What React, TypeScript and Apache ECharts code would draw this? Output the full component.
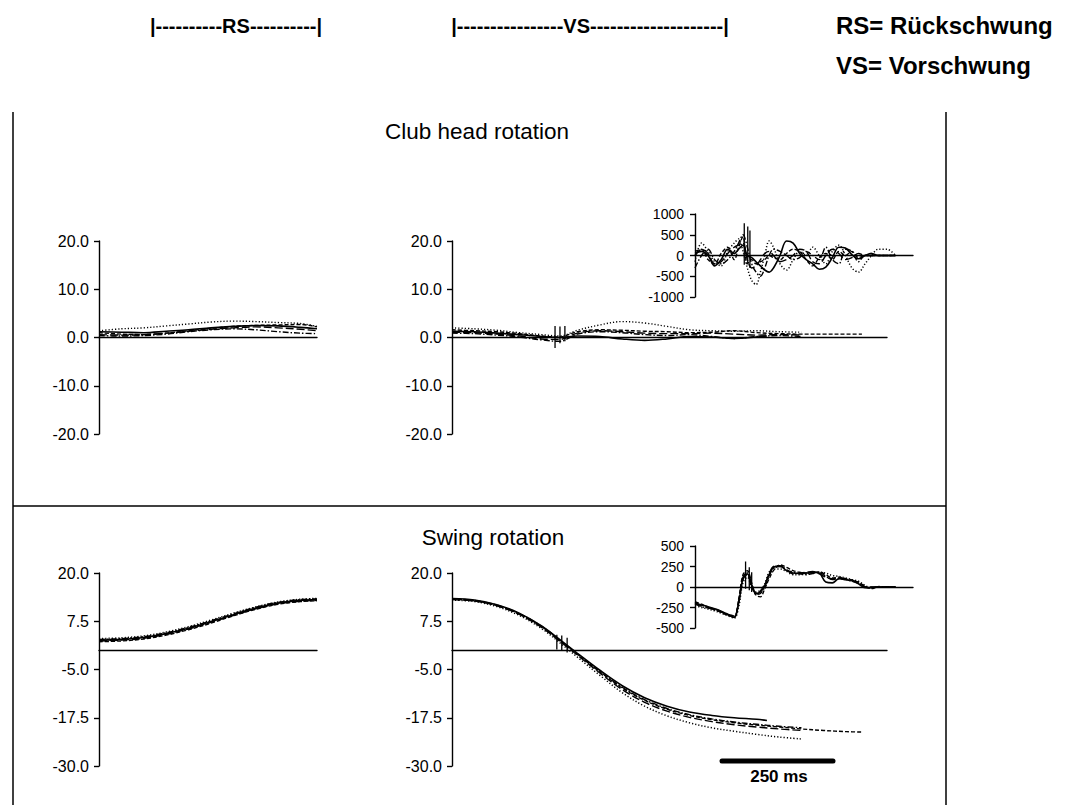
import React, { useEffect, useRef } from "react";
import * as echarts from "echarts";

// ---------- tick / axis settings ----------
const clubTicks = { min: -20, max: 20, interval: 10 };
const swingTicks = { min: -30, max: 20, interval: 12.5 };
const clubInsetTicks = { min: -1000, max: 1000, interval: 500 };
const swingInsetTicks = { min: -500, max: 500, interval: 250 };

// ---------- time bases ----------
const rsTime = [0, 50, 100, 150, 200, 250, 300, 350, 400, 450, 487];
const vsTime = [0, 50, 100, 150, 200, 240, 280, 330, 380, 430, 480, 530, 580, 630, 680, 730, 780, 830, 880, 915];
const vsSolidTime = [0, 50, 100, 150, 200, 240, 280, 330, 380, 430, 480, 530, 580, 630, 680, 703];
const insetUnits = [0, 3, 6, 9, 12, 15, 18, 20, 22, 24, 26, 28, 30, 32, 34, 36, 39, 42, 45, 48, 51, 54, 57, 60, 63, 66, 69, 72, 75, 78, 81, 84, 88, 92];

// ---------- Club head rotation: Rückschwung ----------
const clubRsSolid = [1.2, 1.1, 1.0, 1.3, 1.6, 2.0, 2.3, 2.5, 2.4, 2.1, 1.8];
const clubRsDotted = [1.4, 1.8, 2.0, 2.4, 2.8, 3.2, 3.4, 3.3, 3.1, 2.9, 2.3];
const clubRsDashed = [1.0, 0.7, 0.6, 0.9, 1.4, 1.9, 2.3, 2.5, 2.6, 2.7, 2.2];
const clubRsDashDot = [0.4, 0.3, 0.4, 0.7, 1.2, 1.6, 1.8, 1.6, 1.2, 0.9, 0.8];
const clubRsLongDash = [0.6, 0.5, 0.6, 0.9, 1.3, 1.7, 2.0, 2.2, 2.0, 1.7, 1.4];

// ---------- Club head rotation: Vorschwung ----------
const clubVsSolid = [1.3, 1.2, 0.9, 0.6, 0.2, 0.0, 0.3, 0.2, -0.3, -0.6, -0.3, 0.2, 0.1, -0.2, 0.1, 0.3];
const clubVsDotted = [2.0, 1.8, 1.5, 1.0, 0.6, 0.3, 1.5, 2.6, 3.3, 3.0, 2.3, 1.6, 1.4, 1.3, 1.4, 1.2, 1.1];
const clubVsDashed = [1.6, 1.4, 1.2, 0.8, 0.3, 0.1, 1.2, 1.6, 1.5, 1.3, 1.2, 1.0, 1.1, 1.4, 1.0, 0.8, 0.7, 0.7, 0.7, 0.7];
const clubVsDashDot = [0.9, 0.8, 0.5, 0.1, -0.5, -0.8, 0.7, 1.2, 1.0, 0.6, 0.4, 0.6, 0.2, -0.2, 0.2, 0.4, 0.2];
const clubVsLongDash = [1.1, 1.0, 0.7, 0.3, -0.3, -0.4, 0.9, 1.4, 1.2, 0.9, 0.8, 0.8, 0.9, 0.7, 0.5, 0.6, 0.5];
const clubVsSpikeTime = [230, 241, 252];
const clubVsSpikeHigh = [2.4, 2.3, 2.4];
const clubVsSpikeLow = [-2.2, -1.2, -0.8];

// ---------- Club head rotation: inset ----------
const clubInsetSolid = [50, 100, 0, -250, -100, 150, 50, 150, 250, 0, -50, -150, -250, -350, -400, -300, 0, 350, 300, 50, -100, -200, -330, -280, -50, 200, 180, 20, -80, 0, 50, 0, 0, 0];
const clubInsetDotted = [-150, 300, 100, -150, -250, 100, 300, 400, 100, -300, -600, -700, -400, 0, 350, 200, -200, -350, -100, 100, 0, 200, 0, -200, 100, 250, 0, -300, -400, -200, 0, 150, 150, 0];
const clubInsetDashDot = [-300, 0, 150, -100, -200, -100, 100, 300, 500, 200, -200, -400, -500, -300, 0, 150, 100, 0, -100, -50, 100, 0, -100, 200, -100, -200, 150, 100, -150, 0, 0, 0, 0, 0];
const clubInsetDashed = [100, 150, -100, -200, 50, 200, -100, 200, 450, -200, -100, -200, -150, -100, 0, -50, -100, 50, 150, 100, -100, -250, -50, 50, -100, 100, 0, 100, -50, 0, 0, 0, 0, 0];
const clubInsetLongDash = [0, 150, 50, -200, -150, 50, 200, 250, 300, -100, -300, -250, -100, 50, 100, 0, -150, -100, 0, 150, 100, -150, -200, 0, 150, 50, -100, -50, 50, 0, 0, 0, 0, 0];
const clubInsetSpikeUnit = [22.6, 24.2, 25.2];
const clubInsetSpikeHigh = [780, 700, 600];
const clubInsetSpikeLow = [-220, -200, -300];

// ---------- Swing rotation: Rückschwung ----------
const swingRsA = [2.6, 2.8, 3.3, 4.3, 5.7, 7.4, 9.2, 10.9, 12.2, 12.9, 13.1];
const swingRsB = [3.0, 3.2, 3.7, 4.7, 6.1, 7.8, 9.6, 11.2, 12.5, 13.2, 13.4];
const swingRsC = [2.2, 2.4, 2.9, 3.9, 5.3, 7.0, 8.9, 10.6, 11.9, 12.6, 12.8];
const swingRsD = [2.8, 3.0, 3.5, 4.5, 5.9, 7.6, 9.4, 11.1, 12.4, 13.1, 13.3];
const swingRsE = [2.4, 2.6, 3.1, 4.1, 5.5, 7.2, 9.0, 10.7, 12.0, 12.7, 12.9];

// ---------- Swing rotation: Vorschwung ----------
const swingVsSolid = [13.4, 13.0, 11.8, 9.6, 6.3, 2.8, -0.8, -5.2, -9.2, -12.3, -14.5, -16.0, -16.9, -17.5, -17.9, -18.2];
const swingVsDashed = [13.2, 12.8, 11.6, 9.4, 6.1, 2.6, -1.1, -5.6, -9.8, -13.0, -15.3, -16.9, -18.0, -18.8, -19.4, -19.9, -20.4, -20.8, -21.1, -21.2];
const swingVsDotted = [13.0, 12.6, 11.3, 9.0, 5.6, 2.0, -1.8, -6.5, -11.0, -14.5, -17.0, -18.8, -20.1, -21.0, -21.8, -22.5, -23.0];
const swingVsDashDot = [13.3, 12.9, 11.7, 9.5, 6.2, 2.7, -1.0, -5.5, -9.6, -12.8, -15.1, -16.7, -17.8, -18.6, -19.2, -19.7, -20.1];
const swingVsLongDash = [13.1, 12.7, 11.5, 9.3, 5.9, 2.4, -1.3, -5.9, -10.2, -13.5, -15.8, -17.4, -18.5, -19.3, -19.9, -20.4, -20.8];
const swingVsSpikeTime = [234, 245, 257];
const swingVsSpikeHigh = [4.0, 3.8, 3.2];
const swingVsSpikeLow = [0.2, -0.2, -0.6];

// ---------- Swing rotation: inset ----------
const swingInsetSolid = [-200, -220, -240, -265, -295, -335, -370, -200, 100, 160, 20, -80, -60, 20, 150, 240, 255, 200, 170, 165, 170, 180, 170, 60, 50, 100, 90, 75, 40, -10, -5, 0, 0, 0];
const swingInsetDashed = [-180, -210, -250, -280, -310, -345, -360, -150, 150, 200, 50, -100, -120, -20, 100, 200, 270, 240, 200, 180, 170, 175, 185, 150, 110, 120, 100, 80, 60, 10, -20, 0, 0, 0];
const swingInsetDotted = [-230, -250, -270, -290, -320, -350, -380, -250, 50, 120, 0, -60, -40, 40, 180, 220, 220, 190, 150, 150, 160, 170, 180, 170, 140, 130, 110, 90, 70, 20, -15, 5, 0, 0];
const swingInsetDashDot = [-210, -240, -255, -275, -305, -340, -365, -180, 120, 180, 30, -90, -80, 0, 130, 230, 250, 210, 180, 160, 150, 165, 175, 130, 90, 100, 95, 70, 45, 0, -10, 0, 0, 0];
const swingInsetLongDash = [-190, -230, -250, -270, -300, -330, -350, -190, 90, 150, 10, -70, -50, 30, 160, 250, 260, 210, 160, 170, 180, 190, 160, 120, 100, 110, 100, 85, 50, 5, 0, 0, 0, 0];
const swingInsetSpikeUnit = [23.2, 24.9, 26.0];
const swingInsetSpikeHigh = [310, 240, 180];
const swingInsetSpikeLow = [-20, -40, -60];

// ---------- texts ----------
const headerRs = "|----------RS----------|";
const headerVs = "|----------------VS--------------------|";
const legendLines = ["RS= Rückschwung", "VS= Vorschwung"];
const panelTitles = ["Club head rotation", "Swing rotation"];
const scaleBarLabel = "250 ms";

const FONT = "'Liberation Sans', Arial, Helvetica, sans-serif";
const BLACK = "#000";

const DASH: Record<string, any> = {
  solid: "solid",
  dotted: [1.2, 2],
  dashed: [4, 2],
  dashDot: [6, 2, 1.5, 2],
  longDash: [8, 3],
};

function lineSeries(idx: number, xs: number[], ys: number[], dash: string, width = 1.4) {
  return {
    type: "line",
    xAxisIndex: idx,
    yAxisIndex: idx,
    data: ys.map((y, i) => [xs[i], y]),
    showSymbol: false,
    symbol: "none",
    smooth: 0.35,
    silent: true,
    lineStyle: { color: BLACK, width, type: DASH[dash] },
  };
}

function spikeSeries(idx: number, xs: number[], hi: number[], lo: number[]) {
  return xs.map((x, i) => ({
    type: "line",
    xAxisIndex: idx,
    yAxisIndex: idx,
    data: [
      [x, lo[i]],
      [x, hi[i]],
    ],
    showSymbol: false,
    symbol: "none",
    silent: true,
    lineStyle: { color: BLACK, width: 1.3 },
  }));
}

export default function App() {
  const ref = useRef<HTMLDivElement>(null);

  useEffect(() => {
    if (!ref.current) return;
    const chart = echarts.init(ref.current, undefined, { renderer: "svg" });

    const grids = [
      { left: 99, top: 241, width: 218, height: 193 }, // 0 club RS
      { left: 452, top: 241, width: 435, height: 193 }, // 1 club VS
      { left: 695, top: 214, width: 218, height: 83 }, // 2 club inset
      { left: 99, top: 573, width: 218, height: 193 }, // 3 swing RS
      { left: 452, top: 573, width: 435, height: 193 }, // 4 swing VS
      { left: 695, top: 546, width: 218, height: 82 }, // 5 swing inset
    ];
    const xRanges = [
      [0, 487],
      [0, 971],
      [0, 100],
      [0, 487],
      [0, 971],
      [0, 100],
    ];
    const yTicks = [clubTicks, clubTicks, clubInsetTicks, swingTicks, swingTicks, swingInsetTicks];
    const isInset = [false, false, true, false, false, true];

    const xAxis = grids.map((_, i) => ({
      type: "value",
      gridIndex: i,
      min: xRanges[i][0],
      max: xRanges[i][1],
      axisLine: { show: true, onZero: true, lineStyle: { color: BLACK, width: 1.4 } },
      axisTick: { show: false },
      axisLabel: { show: false },
      splitLine: { show: false },
    }));

    const yAxis = grids.map((_, i) => ({
      type: "value",
      gridIndex: i,
      min: yTicks[i].min,
      max: yTicks[i].max,
      interval: yTicks[i].interval,
      axisLine: { show: true, onZero: false, lineStyle: { color: BLACK, width: 1.4 } },
      axisTick: { show: true, inside: false, length: 5, lineStyle: { color: BLACK, width: 1.4 } },
      axisLabel: {
        show: true,
        color: BLACK,
        fontFamily: FONT,
        fontSize: isInset[i] ? 14 : 16,
        margin: isInset[i] ? 11 : 10,
        formatter: (v: number) => (isInset[i] ? String(Math.round(v)) : v.toFixed(1)),
      },
      splitLine: { show: false },
    }));

    const series: any[] = [
      // club RS
      lineSeries(0, rsTime, clubRsSolid, "solid", 1.6),
      lineSeries(0, rsTime, clubRsDotted, "dotted"),
      lineSeries(0, rsTime, clubRsDashed, "dashed"),
      lineSeries(0, rsTime, clubRsDashDot, "dashDot"),
      lineSeries(0, rsTime, clubRsLongDash, "longDash"),
      // club VS
      lineSeries(1, vsSolidTime, clubVsSolid, "solid", 1.6),
      lineSeries(1, vsTime, clubVsDotted, "dotted"),
      lineSeries(1, vsTime, clubVsDashed, "dashed"),
      lineSeries(1, vsTime, clubVsDashDot, "dashDot"),
      lineSeries(1, vsTime, clubVsLongDash, "longDash"),
      ...spikeSeries(1, clubVsSpikeTime, clubVsSpikeHigh, clubVsSpikeLow),
      // club inset
      lineSeries(2, insetUnits, clubInsetSolid, "solid", 1.6),
      lineSeries(2, insetUnits, clubInsetDotted, "dotted", 1.5),
      lineSeries(2, insetUnits, clubInsetDashDot, "dashDot"),
      lineSeries(2, insetUnits, clubInsetDashed, "dashed"),
      lineSeries(2, insetUnits, clubInsetLongDash, "longDash"),
      ...spikeSeries(2, clubInsetSpikeUnit, clubInsetSpikeHigh, clubInsetSpikeLow),
      // swing RS
      lineSeries(3, rsTime, swingRsA, "solid", 1.6),
      lineSeries(3, rsTime, swingRsB, "dotted", 1.5),
      lineSeries(3, rsTime, swingRsC, "dashed"),
      lineSeries(3, rsTime, swingRsD, "dashDot"),
      lineSeries(3, rsTime, swingRsE, "longDash"),
      // swing VS
      lineSeries(4, vsSolidTime, swingVsSolid, "solid", 1.6),
      lineSeries(4, vsTime, swingVsDashed, "dashed"),
      lineSeries(4, vsTime, swingVsDotted, "dotted", 1.5),
      lineSeries(4, vsTime, swingVsDashDot, "dashDot"),
      lineSeries(4, vsTime, swingVsLongDash, "longDash"),
      ...spikeSeries(4, swingVsSpikeTime, swingVsSpikeHigh, swingVsSpikeLow),
      // swing inset
      lineSeries(5, insetUnits, swingInsetSolid, "solid", 1.6),
      lineSeries(5, insetUnits, swingInsetDashed, "dashed"),
      lineSeries(5, insetUnits, swingInsetDotted, "dotted", 1.5),
      lineSeries(5, insetUnits, swingInsetDashDot, "dashDot"),
      lineSeries(5, insetUnits, swingInsetLongDash, "longDash"),
      ...spikeSeries(5, swingInsetSpikeUnit, swingInsetSpikeHigh, swingInsetSpikeLow),
    ];

    const frameStyle = { stroke: BLACK, lineWidth: 1.5 };
    const titleX = [477, 493];
    const titleY = [131, 537];
    const graphic: any[] = [
      { type: "line", shape: { x1: 13, y1: 112, x2: 13, y2: 805 }, style: frameStyle },
      { type: "line", shape: { x1: 946, y1: 112, x2: 946, y2: 805 }, style: frameStyle },
      { type: "line", shape: { x1: 13, y1: 506, x2: 946, y2: 506 }, style: frameStyle },
      {
        type: "text",
        x: 236,
        y: 26,
        style: { text: headerRs, fill: BLACK, fontFamily: FONT, fontSize: 20, fontWeight: "bold", align: "center", verticalAlign: "middle" },
      },
      {
        type: "text",
        x: 590,
        y: 26,
        style: { text: headerVs, fill: BLACK, fontFamily: FONT, fontSize: 20, fontWeight: "bold", align: "center", verticalAlign: "middle" },
      },
      ...legendLines.map((t, i) => ({
        type: "text",
        x: 836,
        y: 25 + i * 40,
        style: { text: t, fill: BLACK, fontFamily: FONT, fontSize: 24, fontWeight: "bold", align: "left", verticalAlign: "middle" },
      })),
      ...panelTitles.map((t, i) => ({
        type: "text",
        x: titleX[i],
        y: titleY[i],
        style: { text: t, fill: BLACK, fontFamily: FONT, fontSize: 22.5, align: "center", verticalAlign: "middle" },
      })),
      {
        type: "line",
        shape: { x1: 722, y1: 761, x2: 833, y2: 761 },
        style: { stroke: BLACK, lineWidth: 5, lineCap: "round" },
      },
      {
        type: "text",
        x: 779,
        y: 776,
        style: { text: scaleBarLabel, fill: BLACK, fontFamily: FONT, fontSize: 17, fontWeight: "bold", align: "center", verticalAlign: "middle" },
      },
    ];

    chart.setOption({
      animation: false,
      backgroundColor: "#fff",
      grid: grids.map((g) => ({ ...g, containLabel: false })),
      xAxis,
      yAxis,
      series,
      graphic,
    });

    return () => chart.dispose();
  }, []);

  return <div ref={ref} style={{ position: "fixed", left: 0, top: 0, width: 1073, height: 805 }} />;
}
